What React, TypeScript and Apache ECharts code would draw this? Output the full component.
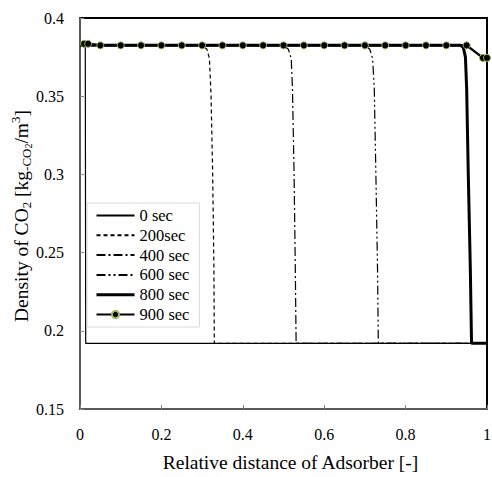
import React, { useEffect, useRef } from 'react';
import * as echarts from 'echarts';

const FONT = 'Liberation Serif, Times New Roman, serif';

const seriesNames = ['0 sec', '200sec', '400 sec', '600 sec', '800 sec', '900 sec'];

const sec0: number[][] = [[0, 0.3825], [0.013, 0.3825], [0.014, 0.192], [1, 0.192]];
const sec200: number[][] = [
  [0, 0.3825], [0.3, 0.3825], [0.312, 0.38], [0.318, 0.374], [0.322, 0.35],
  [0.326, 0.3], [0.329, 0.24], [0.33, 0.192], [1, 0.192],
];
const sec400: number[][] = [
  [0, 0.3825], [0.5, 0.3825], [0.512, 0.38], [0.519, 0.374], [0.522, 0.355],
  [0.526, 0.3], [0.529, 0.24], [0.531, 0.192], [1, 0.192],
];
const sec600: number[][] = [
  [0, 0.3825], [0.7, 0.3825], [0.712, 0.38], [0.719, 0.374], [0.723, 0.355],
  [0.727, 0.3], [0.731, 0.24], [0.733, 0.192], [1, 0.192],
];
const sec800: number[][] = [
  [0, 0.3825], [0.935, 0.3825], [0.942, 0.381], [0.947, 0.375], [0.95, 0.355],
  [0.954, 0.3], [0.959, 0.24], [0.962, 0.192], [1, 0.192],
];
const sec900: number[][] = [
  [0.01, 0.3835], [0.02, 0.3835], [0.05, 0.3825], [0.1, 0.3825], [0.15, 0.3825],
  [0.2, 0.3825], [0.25, 0.3825], [0.3, 0.3825], [0.35, 0.3825], [0.4, 0.3825],
  [0.45, 0.3825], [0.5, 0.3825], [0.55, 0.3825], [0.6, 0.3825], [0.65, 0.3825],
  [0.7, 0.3825], [0.75, 0.3825], [0.8, 0.3825], [0.85, 0.3825], [0.9, 0.3825],
  [0.95, 0.3825], [0.99, 0.3745], [1.0, 0.3745],
];

const xRange = { min: 0, max: 1, interval: 0.2 };
const yRange = { min: 0.15, max: 0.4, interval: 0.05 };

export default function App() {
  const ref = useRef<HTMLDivElement>(null);
  useEffect(() => {
    if (!ref.current) return;
    const chart = echarts.init(ref.current, undefined, { renderer: 'svg' });
    const thin = (name: string, data: number[][], type: any, width = 1.2) => ({
      name,
      type: 'line',
      data,
      symbol: 'none',
      lineStyle: { color: '#000', width, type },
      itemStyle: { color: '#000' },
      z: 2,
    });
    const hiddenDot = { color: 'rgba(0,0,0,0)', borderWidth: 0, opacity: 0 };
    chart.setOption({
      animation: false,
      backgroundColor: '#fff',
      textStyle: { fontFamily: FONT, color: '#000' },
      grid: {
        left: 80, right: 5, top: 18, bottom: 68,
        containLabel: false, outerBoundsMode: 'none',
        show: true, borderColor: '#000', borderWidth: 2, backgroundColor: 'transparent',
      },
      xAxis: {
        type: 'value', ...xRange,
        name: 'Relative distance of Adsorber [-]',
        nameLocation: 'middle', nameGap: 43,
        nameTextStyle: { fontFamily: FONT, fontSize: 19.5, color: '#000', padding: [0, 0, 0, 14] },
        axisLine: { show: true, lineStyle: { color: '#595959', width: 2 } },
        axisTick: { show: true, inside: true, length: 4, lineStyle: { color: '#868686', width: 1 } },
        axisLabel: { fontFamily: FONT, fontSize: 16, color: '#000', margin: 17 },
        splitLine: { show: false },
      },
      yAxis: {
        type: 'value', ...yRange,
        axisLine: { show: true, lineStyle: { color: '#595959', width: 2 } },
        axisTick: { show: true, inside: true, length: 4, lineStyle: { color: '#868686', width: 1 } },
        axisLabel: { fontFamily: FONT, fontSize: 16, color: '#000', margin: 16 },
        splitLine: { show: false },
      },
      legend: {
        data: [
          { name: seriesNames[0], itemStyle: hiddenDot },
          { name: seriesNames[1], itemStyle: hiddenDot },
          { name: seriesNames[2], itemStyle: hiddenDot },
          { name: seriesNames[3], itemStyle: hiddenDot },
          { name: seriesNames[4], itemStyle: hiddenDot, lineStyle: { width: 3 } },
          { name: seriesNames[5] },
        ],
        orient: 'vertical',
        left: 87, top: 203,
        padding: [4, 10, 4, 8],
        itemWidth: 38, itemHeight: 9, itemGap: 2.8,
        backgroundColor: '#fff',
        borderColor: '#d9d9d9', borderWidth: 1,
        textStyle: { fontFamily: FONT, fontSize: 16.5, color: '#000' },
      },
      graphic: [
        {
          type: 'text',
          x: 21, y: 216,
          rotation: Math.PI / 2,
          style: {
            text: '{a|Density of CO}{s|2}{a| [kg}{s|-CO}{ss|2}{a|/m}{p|3}{a|]}',
            align: 'center', verticalAlign: 'middle', fill: '#000',
            rich: {
              a: { fontFamily: FONT, fontSize: 19.5, lineHeight: 24, fill: '#000' },
              s: { fontFamily: FONT, fontSize: 13, lineHeight: 13, verticalAlign: 'bottom', fill: '#000' },
              ss: { fontFamily: FONT, fontSize: 10, lineHeight: 9, verticalAlign: 'bottom', fill: '#000' },
              p: { fontFamily: FONT, fontSize: 13, lineHeight: 13, verticalAlign: 'top', fill: '#000' },
            },
          },
        },
      ],
      series: [
        thin(seriesNames[0], sec0, 'solid', 1.2),
        thin(seriesNames[1], sec200, [4, 3], 1.2),
        thin(seriesNames[2], sec400, [9, 3, 2, 3], 1.2),
        thin(seriesNames[3], sec600, [9, 3, 2, 3, 2, 3], 1.2),
        thin(seriesNames[4], sec800, 'solid', 3),
        {
          name: seriesNames[5],
          type: 'line',
          data: sec900,
          symbol: 'circle',
          symbolSize: 7,
          showSymbol: true,
          lineStyle: { color: '#000', width: 2.5 },
          itemStyle: { color: '#000', borderColor: '#9bbb59', borderWidth: 1 },
          clip: false,
          z: 3,
        },
      ],
    });
    return () => chart.dispose();
  }, []);
  return <div ref={ref} style={{ position: 'fixed', left: 0, top: 0, width: 492, height: 477 }} />;
}
